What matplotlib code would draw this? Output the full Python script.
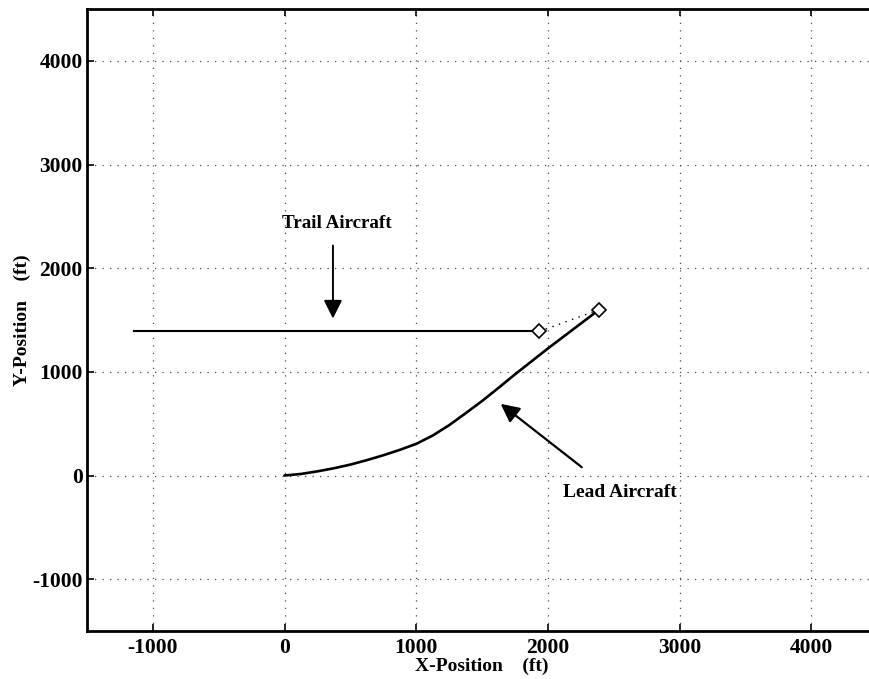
import matplotlib
matplotlib.use("Agg")
import matplotlib.pyplot as plt

# ---- data ----
lead_x = [0, 125, 250, 375, 500, 625, 750, 875, 1000, 1125, 1250, 1375,
          1500, 1625, 1750, 2000, 2390]
lead_y = [0, 15, 40, 70, 105, 148, 195, 247, 305, 385, 485, 600,
          718, 845, 975, 1225, 1600]

trail_x = [-1140, 1935]
trail_y = [1390, 1390]

link_x = [1935, 2390]
link_y = [1390, 1600]

xticks = [-1000, 0, 1000, 2000, 3000, 4000]
yticks = [-1000, 0, 1000, 2000, 3000, 4000]

trail_label = "Trail Aircraft"
trail_text_xy = (398, 2430)
trail_arrow_from = (368, 2218)
trail_arrow_to = (368, 1514)

lead_label = "Lead Aircraft"
lead_text_xy = (2550, -161)
lead_arrow_from = (2258, 80)
lead_arrow_to = (1642, 691)

plt.rcParams['font.family'] = ['Liberation Serif', 'DejaVu Serif']
plt.rcParams['font.weight'] = 'bold'

fig = plt.figure(figsize=(8.7, 6.79), dpi=100)
W, H = 870, 679
left, right, top, bottom = 87, 877, 9, 631
ax = fig.add_axes([left / W, (H - bottom) / H, (right - left) / W, (bottom - top) / H])

ax.set_xlim(-1500, 4500)
ax.set_ylim(-1500, 4500)

ax.plot(lead_x, lead_y, color='black', lw=1.9, solid_capstyle='round',
        solid_joinstyle='round')
ax.plot(trail_x, trail_y, color='black', lw=1.5)
ax.plot(link_x, link_y, color='black', lw=1.0, linestyle=(0, (1, 4)))
ax.plot(link_x, link_y, linestyle='none', marker='D', markersize=7.5,
        markerfacecolor='white', markeredgecolor='black', markeredgewidth=1.2)

ax.set_xticks(xticks)
ax.set_yticks(yticks)
ax.set_xticklabels([str(v) for v in xticks], fontsize=15.5, fontweight='bold')
ax.set_yticklabels([str(v) for v in yticks], fontsize=15.5, fontweight='bold')
ax.tick_params(axis='both', direction='in', length=5, width=1.2,
               top=True, right=True, colors='black')
ax.tick_params(axis='x', pad=5)
ax.tick_params(axis='y', pad=3)

ax.grid(True, color='0.3', linestyle=(0, (1, 5)), linewidth=0.9)

for s in ax.spines.values():
    s.set_linewidth(2.0)
    s.set_color('black')

ax.set_xlabel("X-Position    (ft)", fontsize=14, fontweight='bold', labelpad=0)
ax.set_ylabel("Y-Position    (ft)", fontsize=14, fontweight='bold', labelpad=1)

ax.text(*trail_text_xy, trail_label, ha='center', va='center',
        fontsize=13.7, fontweight='bold')
ax.annotate('', xy=trail_arrow_to, xytext=trail_arrow_from,
            arrowprops=dict(arrowstyle='-|>,head_length=0.8,head_width=0.4',
                            color='black', lw=1.4, mutation_scale=14,
                            shrinkA=0, shrinkB=0))

ax.text(*lead_text_xy, lead_label, ha='center', va='center',
        fontsize=14, fontweight='bold')
ax.annotate('', xy=lead_arrow_to, xytext=lead_arrow_from,
            arrowprops=dict(arrowstyle='-|>,head_length=0.8,head_width=0.4',
                            color='black', lw=1.6, mutation_scale=14,
                            shrinkA=0, shrinkB=0))

fig.savefig("out.png", dpi=100)
